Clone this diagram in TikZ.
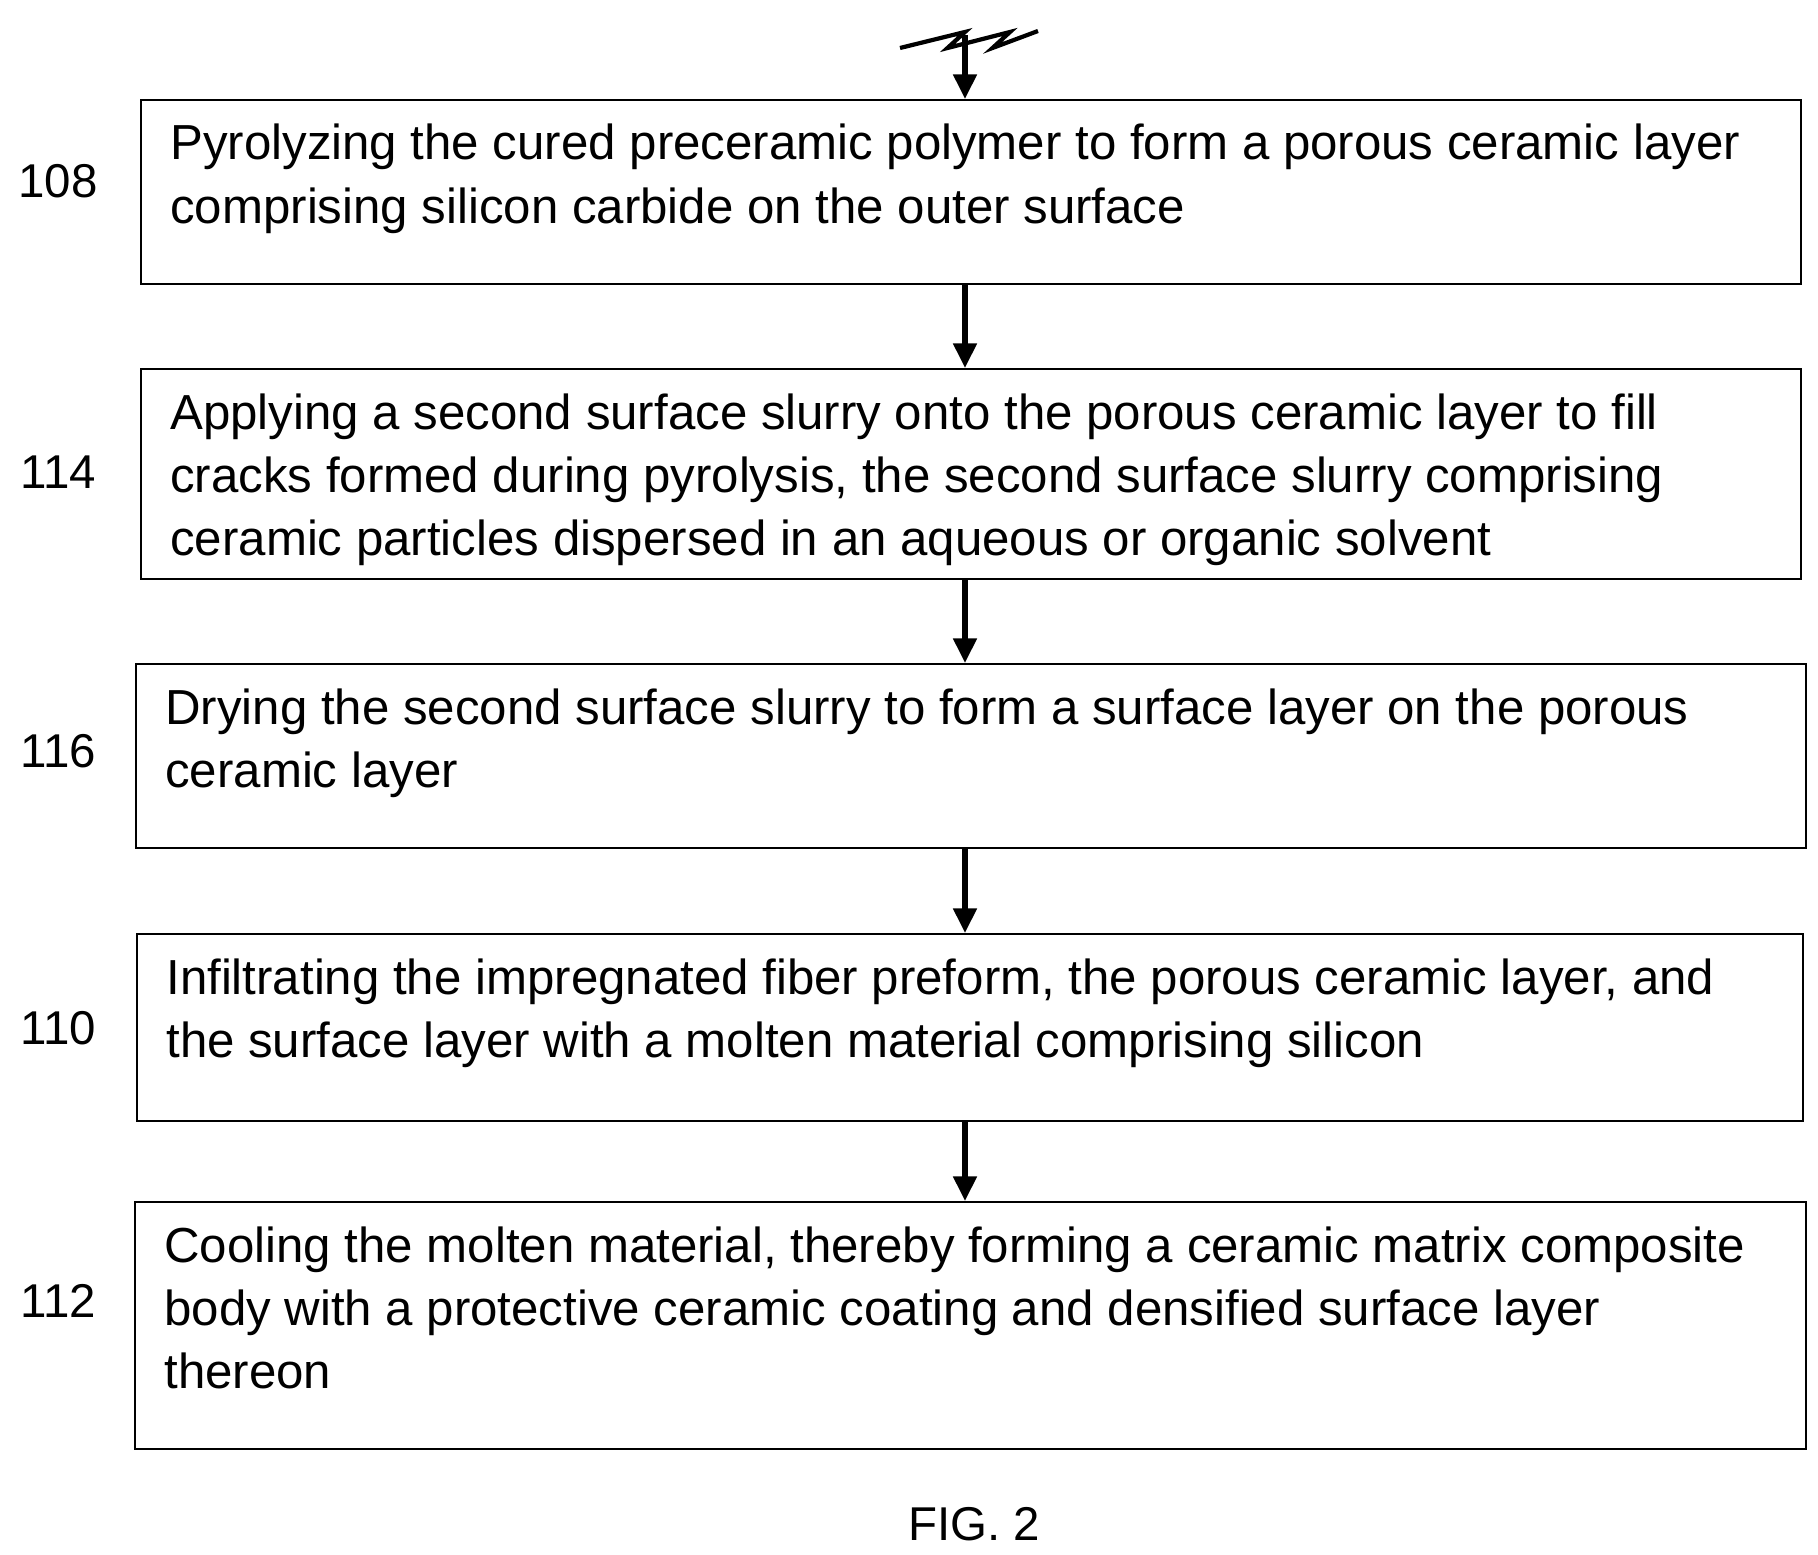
\documentclass[tikz,border=0pt]{standalone}
\usepackage{fontspec}
\setmainfont{Liberation Sans}
\usetikzlibrary{arrows.meta}
\begin{document}
\begin{tikzpicture}[>={Triangle[length=14pt,width=13pt]},
    stepbox/.style={draw,line width=1.3pt,inner sep=0pt,anchor=north west},
    steptext/.style={anchor=north west,inner sep=0pt,align=left,
      font=\fontsize{28}{36}\selectfont},
    steplabel/.style={font=\fontsize{27}{30}\selectfont},
    flow/.style={->,line width=3pt}]
    \useasboundingbox (0,0) rectangle (36.36,-31.1);

    % Boxes
    \node[stepbox,minimum width=33.2cm,minimum height=3.68cm]  (s108) at (2.8,-1.98) {};
    \node[stepbox,minimum width=33.2cm,minimum height=4.2cm]   (s114) at (2.8,-7.36) {};
    \node[stepbox,minimum width=33.4cm,minimum height=3.68cm]  (s116) at (2.7,-13.26) {};
    \node[stepbox,minimum width=33.32cm,minimum height=3.74cm] (s110) at (2.72,-18.66) {};
    \node[stepbox,minimum width=33.42cm,minimum height=4.94cm] (s112) at (2.68,-24.02) {};

    % Texts
    \node[steptext] (t108) at ([shift={(0.6,-0.5)}]s108.north west)
      {Pyrolyzing the cured preceramic polymer to form a porous ceramic layer\\
       comprising silicon carbide on the outer surface};
    \node[steptext] (t114) at ([shift={(0.6,-0.5)}]s114.north west)
      {Applying a second surface slurry onto the porous ceramic layer to fill\\
       cracks formed during pyrolysis, the second surface slurry comprising\\
       ceramic particles dispersed in an aqueous or organic solvent};
    \node[steptext] (t116) at ([shift={(0.6,-0.5)}]s116.north west)
      {Drying the second surface slurry to form a surface layer on the porous\\
       ceramic layer};
    \node[steptext] (t110) at ([shift={(0.6,-0.5)}]s110.north west)
      {Infiltrating the impregnated fiber preform, the porous ceramic layer, and\\
       the surface layer with a molten material comprising silicon};
    \node[steptext] (t112) at ([shift={(0.6,-0.5)}]s112.north west)
      {Cooling the molten material, thereby forming a ceramic matrix composite\\
       body with a protective ceramic coating and densified surface layer\\
       thereon};

    % Reference numerals
    \node[steplabel] (n108) at (1.16,-3.62)  {108};
    \node[steplabel] (n114) at (1.16,-9.44)  {114};
    \node[steplabel] (n116) at (1.16,-15.02) {116};
    \node[steplabel] (n110) at (1.16,-20.56) {110};
    \node[steplabel] (n112) at (1.16,-26.02) {112};
    \node[steplabel] (fig) at (19.48,-30.48) {FIG. 2};

    % Break symbol and arrows
    \coordinate (brk) at (19.3,-0.7);
    \draw[line width=2.4pt] (18.0,-0.96) -- (19.3,-0.64) -- (18.95,-0.96) -- (20.2,-0.64)
      -- (19.85,-0.96) -- (20.76,-0.62);
    \draw[flow] (brk) -- (s108.north -| brk);
    \draw[flow] (s108.south -| brk) -- (s114.north -| brk);
    \draw[flow] (s114.south -| brk) -- (s116.north -| brk);
    \draw[flow] (s116.south -| brk) -- (s110.north -| brk);
    \draw[flow] (s110.south -| brk) -- (s112.north -| brk);
\end{tikzpicture}
\end{document}
